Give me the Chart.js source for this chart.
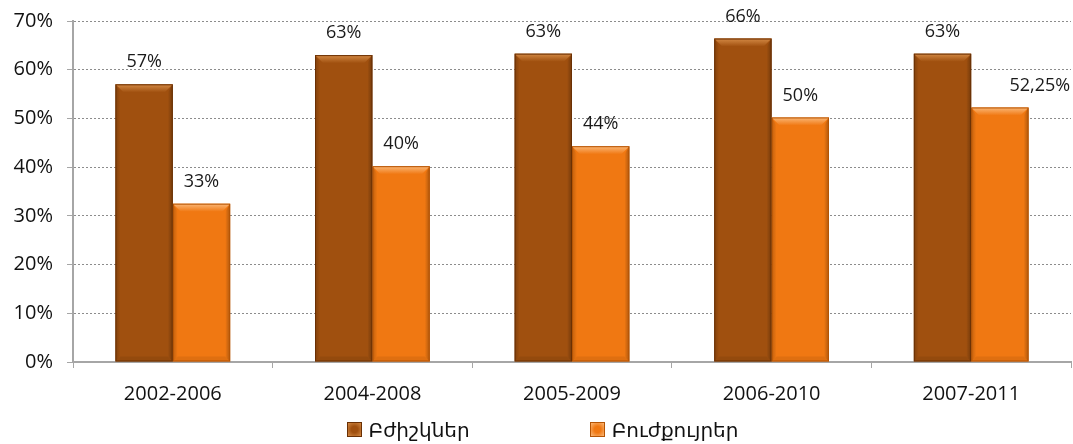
<!DOCTYPE html>
<html>
<head>
<meta charset="utf-8">
<script src="https://cdn.jsdelivr.net/npm/chart.js@4"></script>
<style>
  body { margin: 0; background: #fff; }
  #wrap { position: relative; width: 1073px; height: 444px; }
  #legend {
    position: absolute; left: 6px; top: 416px; width: 1073px;
    display: flex; justify-content: center; gap: 120px;
    font-family: "Open Sans", "DejaVu Sans", sans-serif; font-size: 20px; color: #111;
  }
  .item { display: flex; align-items: center; }
  .box { width: 15px; height: 15px; margin-right: 7px; box-sizing: border-box; }
</style>
</head>
<body>
<div id="wrap">
  <canvas id="chart" width="1073" height="444"></canvas>
  <div id="legend"></div>
</div>
<script>
// Data
const periods = ["2002-2006", "2004-2008", "2005-2009", "2006-2010", "2007-2011"];
const seriesNames = ["Բժիշկներ", "Բուժքույրեր"];
const doctors = [57, 63, 63.3, 66.4, 63.3];
const nurses = [32.5, 40.2, 44.3, 50.2, 52.25];
const doctorLabels = ["57%", "63%", "63%", "66%", "63%"];
const nurseLabels = ["33%", "40%", "44%", "50%", "52,25%"];
const yTicks = [0, 10, 20, 30, 40, 50, 60, 70];

const FONT = '"Open Sans", "DejaVu Sans", sans-serif';
const colors = [
  { body: "#A0500F", light: "#D48A45", dark: "#6A3004" },
  { body: "#F07812", light: "#FBB878", dark: "#B55404" }
];

// ========== bevel on bars ==========
const bevelPlugin = {
  id: "bevel",
  afterDatasetsDraw(chart) {
    const ctx = chart.ctx;
    chart.data.datasets.forEach((ds, di) => {
      const c = colors[di];
      chart.getDatasetMeta(di).data.forEach(bar => {
        const l = bar.x - bar.width / 2, r = bar.x + bar.width / 2;
        const t = bar.y, b = bar.base, s = 8;
        ctx.save();
        // top bevel
        let g = ctx.createLinearGradient(0, t, 0, t + s);
        g.addColorStop(0, c.light);
        g.addColorStop(1, c.body);
        ctx.fillStyle = g;
        ctx.beginPath();
        ctx.moveTo(l, t); ctx.lineTo(r, t); ctx.lineTo(r - s, t + s); ctx.lineTo(l + s, t + s);
        ctx.closePath(); ctx.fill();
        // right edge darker
        g = ctx.createLinearGradient(r - 5, 0, r, 0);
        g.addColorStop(0, "rgba(0,0,0,0)");
        g.addColorStop(1, "rgba(0,0,0,0.28)");
        ctx.fillStyle = g;
        ctx.beginPath();
        ctx.moveTo(r, t); ctx.lineTo(r, b); ctx.lineTo(r - 5, b - 5); ctx.lineTo(r - 5, t + s);
        ctx.closePath(); ctx.fill();
        // left edge
        g = ctx.createLinearGradient(l, 0, l + 5, 0);
        g.addColorStop(0, "rgba(0,0,0,0.2)");
        g.addColorStop(1, "rgba(0,0,0,0)");
        ctx.fillStyle = g;
        ctx.beginPath();
        ctx.moveTo(l, t); ctx.lineTo(l, b); ctx.lineTo(l + 5, b - 5); ctx.lineTo(l + 5, t + s);
        ctx.closePath(); ctx.fill();
        // bottom
        ctx.fillStyle = "rgba(0,0,0,0.07)";
        ctx.beginPath();
        ctx.moveTo(l, b); ctx.lineTo(r, b); ctx.lineTo(r - 5, b - 5); ctx.lineTo(l + 5, b - 5);
        ctx.closePath(); ctx.fill();
        // outline
        ctx.strokeStyle = c.dark;
        ctx.lineWidth = 1;
        ctx.strokeRect(l + 0.5, t + 0.5, r - l - 1, b - t - 1);
        ctx.restore();
      });
    });
  }
};

// ========== value labels ==========
const labelPlugin = {
  id: "valueLabels",
  afterDatasetsDraw(chart) {
    const ctx = chart.ctx;
    const texts = [doctorLabels, nurseLabels];
    ctx.save();
    ctx.font = "18px " + FONT;
    ctx.fillStyle = "#1a1a1a";
    ctx.textAlign = "center";
    ctx.textBaseline = "middle";
    chart.data.datasets.forEach((ds, di) => {
      chart.getDatasetMeta(di).data.forEach((bar, i) => {
        let x = bar.x;
        if (di === 1 && i === periods.length - 1) x += 40; // Excel moved this one
        ctx.fillText(texts[di][i], x, bar.y - 22);
      });
    });
    ctx.restore();
  }
};

new Chart(document.getElementById("chart"), {
  type: "bar",
  data: {
    labels: periods,
    datasets: [
      { label: seriesNames[0], data: doctors, backgroundColor: colors[0].body },
      { label: seriesNames[1], data: nurses, backgroundColor: colors[1].body }
    ]
  },
  options: {
    responsive: false,
    animation: false,
    categoryPercentage: 0.575,
    barPercentage: 1.0,
    layout: { padding: { top: 21, right: 2, bottom: 0, left: 0 } },
    plugins: { legend: { display: false }, tooltip: { enabled: false } },
    scales: {
      x: {
        afterFit: s => { s.height = 82; },
        grid: { offset: true, drawOnChartArea: false, drawTicks: true, tickLength: 6, color: "#a6a6a6" },
        border: { color: "#a6a6a6", width: 2 },
        ticks: { color: "#111", font: { family: FONT, size: 20 }, padding: 14 }
      },
      y: {
        min: 0, max: 70,
        afterFit: s => { s.width = 73; s.paddingTop = 0; s.paddingBottom = 0; },
        afterBuildTicks: s => { s.ticks = yTicks.map(v => ({ value: v })); },
        grid: {
          color: c => c.tick && c.tick.value === 0 ? "rgba(0,0,0,0)" : "#8c8c8c",
          tickBorderDash: [],
          tickColor: "#a6a6a6",
          tickLength: 6
        },
        border: { color: "#a6a6a6", width: 2, dash: [2, 2] },
        ticks: { color: "#111", font: { family: FONT, size: 20 }, padding: 14, callback: v => v + "%" }
      }
    }
  },
  plugins: [bevelPlugin, labelPlugin]
});

// legend
const leg = document.getElementById("legend");
seriesNames.forEach((name, i) => {
  const c = colors[i];
  const item = document.createElement("div");
  item.className = "item";
  const box = document.createElement("span");
  box.className = "box";
  box.style.background = "radial-gradient(circle, " + c.body + " 35%, " + c.light + " 100%)";
  box.style.border = "1px solid " + c.dark;
  const txt = document.createElement("span");
  txt.textContent = name;
  item.appendChild(box);
  item.appendChild(txt);
  leg.appendChild(item);
});
</script>
</body>
</html>
